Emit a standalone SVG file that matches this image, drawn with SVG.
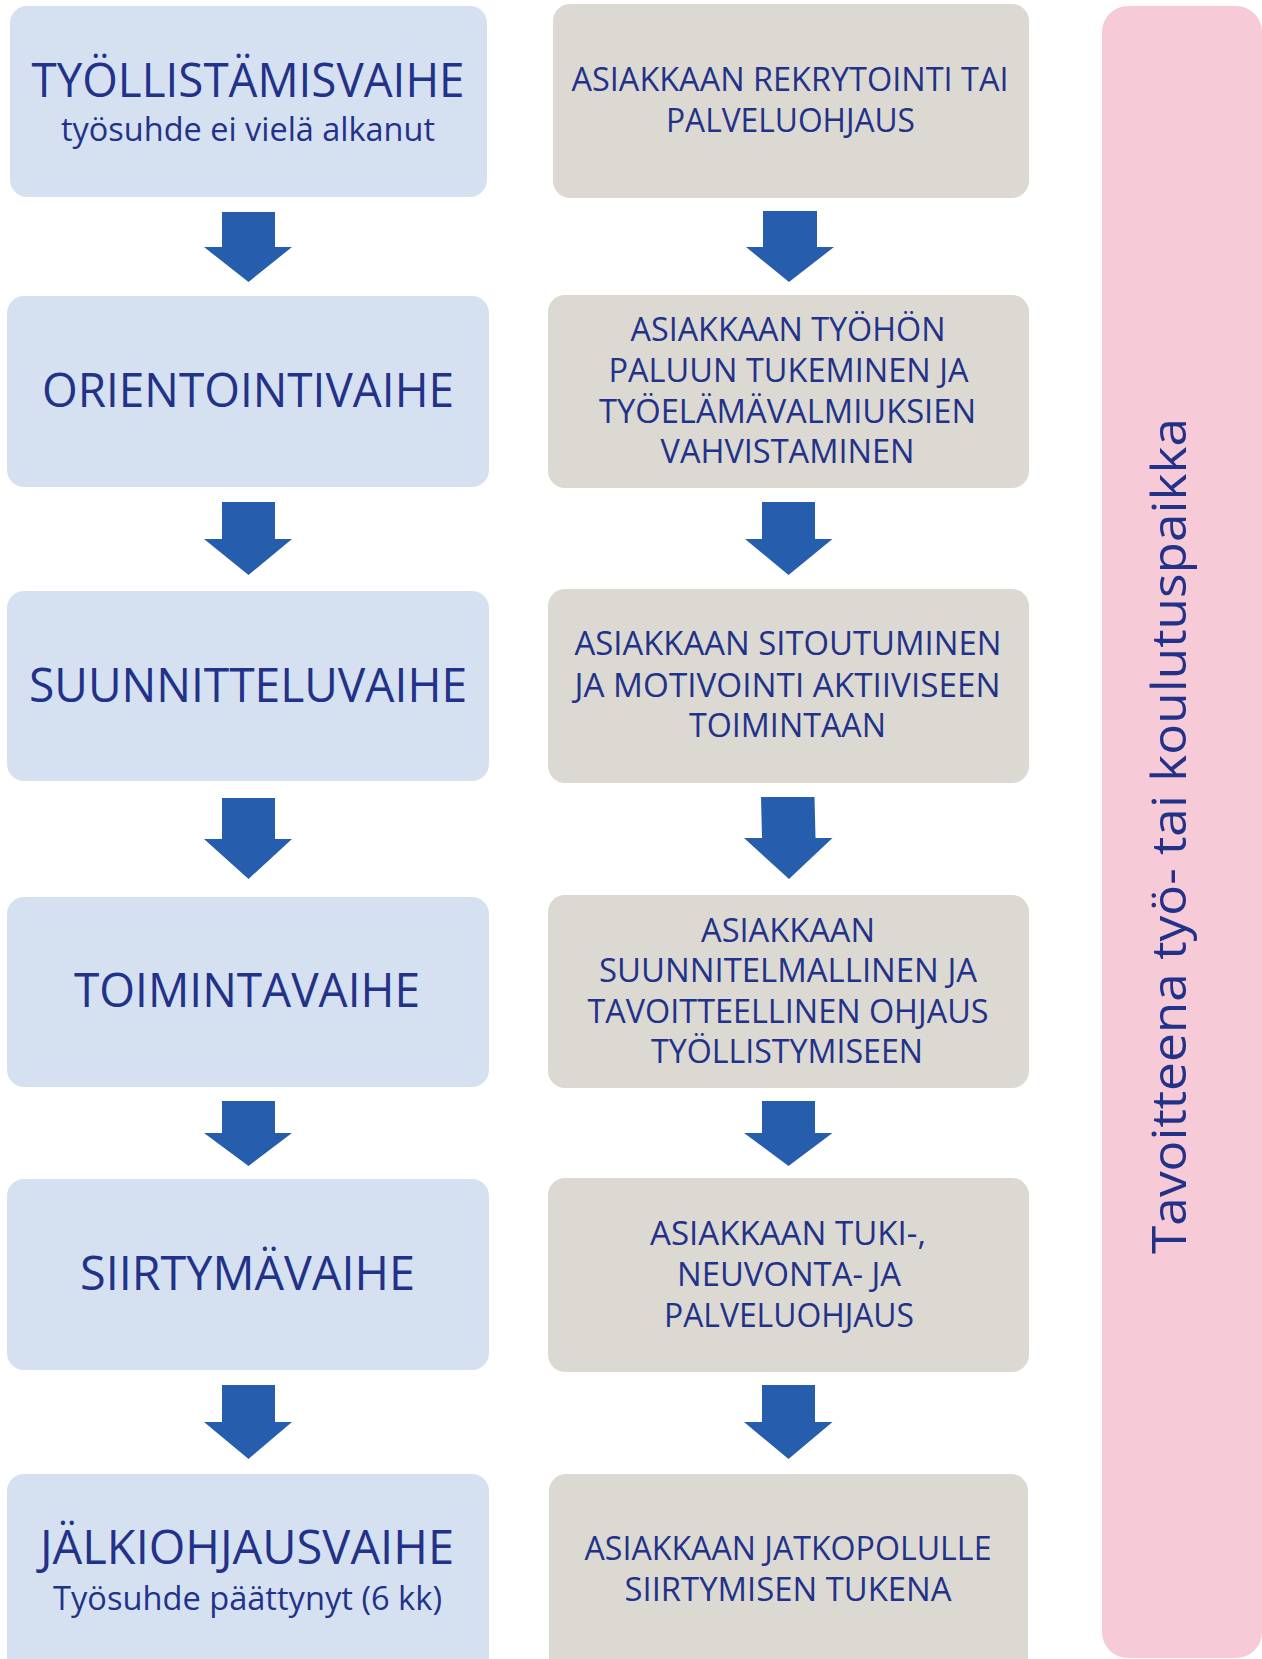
<svg xmlns="http://www.w3.org/2000/svg" width="1262" height="1659" viewBox="0 0 1262 1659">
<style>
.lb{fill:#D5E1F1}
.gb{fill:#DCD9D3}
.pk{fill:#F6CAD7}
.ar{fill:#265EAD}
text{font-family:"Open Sans","Noto Sans","Liberation Sans",sans-serif;fill:#233289;text-anchor:middle}
.big{font-size:48px}
.sub{font-size:32px}
.rt{font-size:32px}
.vt{font-size:48px}
</style>
<rect width="1262" height="1659" fill="#FFFFFF"/>
<g id="side">
<rect class="pk" x="1102" y="6" width="160" height="1652" rx="26"/>
<text class="vt" transform="translate(1186,836) rotate(-90)" x="0" y="0" textLength="836" lengthAdjust="spacingAndGlyphs">Tavoitteena työ- tai koulutuspaikka</text>
</g>
<g id="phase1">
<rect class="lb" x="10" y="6" width="477" height="191" rx="17"/>
<text class="big" x="248" y="97" textLength="433" lengthAdjust="spacingAndGlyphs">TYÖLLISTÄMISVAIHE</text>
<text class="sub" x="248" y="141" textLength="374" lengthAdjust="spacingAndGlyphs">työsuhde ei vielä alkanut</text>
</g>
<g id="phase2">
<rect class="lb" x="7" y="296" width="482" height="191" rx="17"/>
<text class="big" x="248" y="407" textLength="412" lengthAdjust="spacingAndGlyphs">ORIENTOINTIVAIHE</text>
</g>
<g id="phase3">
<rect class="lb" x="7" y="591" width="482" height="190" rx="17"/>
<text class="big" x="248" y="702" textLength="438" lengthAdjust="spacingAndGlyphs">SUUNNITTELUVAIHE</text>
</g>
<g id="phase4">
<rect class="lb" x="7" y="897" width="482" height="190" rx="17"/>
<text class="big" x="247" y="1007" textLength="346" lengthAdjust="spacingAndGlyphs">TOIMINTAVAIHE</text>
</g>
<g id="phase5">
<rect class="lb" x="7" y="1179" width="482" height="191" rx="17"/>
<text class="big" x="247.5" y="1290" textLength="335" lengthAdjust="spacingAndGlyphs">SIIRTYMÄVAIHE</text>
</g>
<g id="phase6">
<rect class="lb" x="7" y="1474" width="482" height="200" rx="17"/>
<text class="big" x="247" y="1564" textLength="414" lengthAdjust="spacingAndGlyphs">JÄLKIOHJAUSVAIHE</text>
<text class="sub" x="247.5" y="1610" textLength="389" lengthAdjust="spacingAndGlyphs">Työsuhde päättynyt (6 kk)</text>
</g>
<g id="task1">
<rect class="gb" x="553" y="4" width="476" height="194" rx="17"/>
<text class="rt" x="790" y="91" textLength="437" lengthAdjust="spacingAndGlyphs">ASIAKKAAN REKRYTOINTI TAI</text>
<text class="rt" x="790.5" y="132" textLength="249" lengthAdjust="spacingAndGlyphs">PALVELUOHJAUS</text>
</g>
<g id="task2">
<rect class="gb" x="548" y="295" width="481" height="193" rx="17"/>
<text class="rt" x="788" y="341" textLength="315" lengthAdjust="spacingAndGlyphs">ASIAKKAAN TYÖHÖN</text>
<text class="rt" x="788.5" y="382" textLength="360" lengthAdjust="spacingAndGlyphs">PALUUN TUKEMINEN JA</text>
<text class="rt" x="787.5" y="423" textLength="377" lengthAdjust="spacingAndGlyphs">TYÖELÄMÄVALMIUKSIEN</text>
<text class="rt" x="787.5" y="463" textLength="254" lengthAdjust="spacingAndGlyphs">VAHVISTAMINEN</text>
</g>
<g id="task3">
<rect class="gb" x="548" y="589" width="481" height="194" rx="17"/>
<text class="rt" x="788" y="655" textLength="427" lengthAdjust="spacingAndGlyphs">ASIAKKAAN SITOUTUMINEN</text>
<text class="rt" x="787.5" y="697" textLength="426" lengthAdjust="spacingAndGlyphs">JA MOTIVOINTI AKTIIVISEEN</text>
<text class="rt" x="787.5" y="737" textLength="197" lengthAdjust="spacingAndGlyphs">TOIMINTAAN</text>
</g>
<g id="task4">
<rect class="gb" x="548" y="895" width="481" height="193" rx="17"/>
<text class="rt" x="788" y="942" textLength="174" lengthAdjust="spacingAndGlyphs">ASIAKKAAN</text>
<text class="rt" x="788" y="982" textLength="378" lengthAdjust="spacingAndGlyphs">SUUNNITELMALLINEN JA</text>
<text class="rt" x="788" y="1023" textLength="401" lengthAdjust="spacingAndGlyphs">TAVOITTEELLINEN OHJAUS</text>
<text class="rt" x="787" y="1063" textLength="272" lengthAdjust="spacingAndGlyphs">TYÖLLISTYMISEEN</text>
</g>
<g id="task5">
<rect class="gb" x="548" y="1178" width="481" height="194" rx="17"/>
<text class="rt" x="788" y="1245" textLength="276" lengthAdjust="spacingAndGlyphs">ASIAKKAAN TUKI-,</text>
<text class="rt" x="789" y="1286" textLength="224" lengthAdjust="spacingAndGlyphs">NEUVONTA- JA</text>
<text class="rt" x="789" y="1327" textLength="250" lengthAdjust="spacingAndGlyphs">PALVELUOHJAUS</text>
</g>
<g id="task6">
<rect class="gb" x="549" y="1474" width="479" height="200" rx="17"/>
<text class="rt" x="788" y="1560" textLength="407" lengthAdjust="spacingAndGlyphs">ASIAKKAAN JATKOPOLULLE</text>
<text class="rt" x="788" y="1601" textLength="327" lengthAdjust="spacingAndGlyphs">SIIRTYMISEN TUKENA</text>
</g>
<g id="connectors">
<polygon class="ar" points="222,212 275,212 275,247 292,247 248.5,282 204,247 222,247"/>
<polygon class="ar" points="222,502 275,502 275,539 292,539 248.5,575 204,539 222,539"/>
<polygon class="ar" points="222,798 275,798 275,839 292,839 248.5,879 204,839 222,839"/>
<polygon class="ar" points="222,1101 275,1101 275,1133 292,1133 248.5,1166 204,1133 222,1133"/>
<polygon class="ar" points="222,1385 275,1385 275,1422 292,1422 248.5,1459 204,1422 222,1422"/>
<polygon class="ar" points="763,211 817,211 817,247 834,247 789,282 746,247 763,247"/>
<polygon class="ar" points="762,502 815,502 815,539 832.5,539 788.5,575 745,539 762,539"/>
<polygon class="ar" points="761,797 814.5,797 815.5,838 832.5,838 789,879 744,838 762,838"/>
<polygon class="ar" points="762,1101 815,1101 815,1133 832.5,1133 788.5,1166 744,1133 762,1133"/>
<polygon class="ar" points="762,1385 815,1385 815,1422 832.5,1422 788.5,1459 744,1422 762,1422"/>
</g>
</svg>
